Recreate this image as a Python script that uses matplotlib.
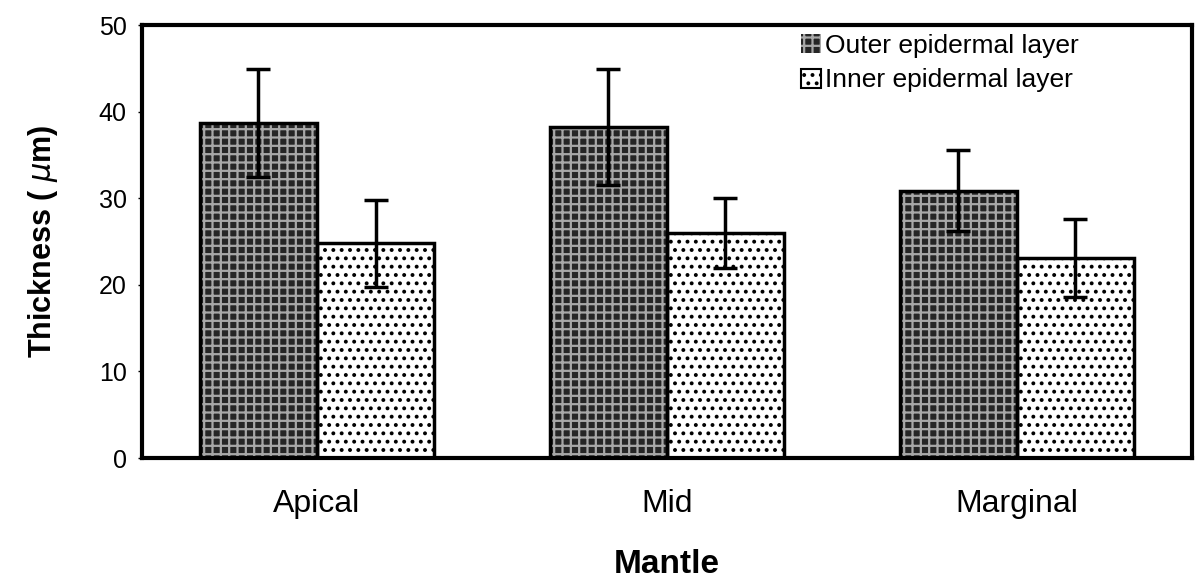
import numpy as np
import matplotlib
matplotlib.use('Agg')
from matplotlib import pyplot as plt
from matplotlib.patches import Patch

# datos
categorias = ['Apical', 'Mid', 'Marginal']
externa = [38.7, 38.2, 30.9]
externa_err = [6.2, 6.7, 4.7]
interna = [24.8, 26.0, 23.1]
interna_err = [5.0, 4.0, 4.5]
series = ['Outer epidermal layer', 'Inner epidermal layer']

plt.rcParams['font.family'] = ['Liberation Sans', 'DejaVu Sans']
plt.rcParams['hatch.linewidth'] = 1.6

fig = plt.figure(figsize=(11.97, 5.88), dpi=100)
ax = fig.add_axes([0.1186, 0.221, 0.877, 0.736])

x = np.arange(len(categorias))
w = 0.335

# barras externas: fondo oscuro con trama clara
ax.bar(x - w/2, externa, w, color='#262626', edgecolor='#a8a8a8', linewidth=0, hatch='++', zorder=2)
ax.bar(x - w/2, externa, w, fill=False, edgecolor='black', linewidth=2.5, zorder=3)
# barras internas: punteado
ax.bar(x + w/2, interna, w, color='white', edgecolor='black', linewidth=0, hatch='..', zorder=2)
ax.bar(x + w/2, interna, w, fill=False, edgecolor='black', linewidth=2.5, zorder=3)

ax.errorbar(x - w/2, externa, yerr=externa_err, fmt='none', ecolor='black', elinewidth=2.5, capsize=8.5, capthick=2.5, zorder=4)
ax.errorbar(x + w/2, interna, yerr=interna_err, fmt='none', ecolor='black', elinewidth=2.5, capsize=8.5, capthick=2.5, zorder=4)

ax.set_xlim(-0.5, 2.5)
ax.set_ylim(0, 50)
ax.set_yticks([0, 10, 20, 30, 40, 50])
ax.set_xticks(x)
ax.set_xticklabels(categorias, fontsize=23)
ax.tick_params(axis='y', labelsize=18, length=3, width=1, pad=8)
ax.tick_params(axis='x', length=0, pad=22)
for s in ax.spines.values():
    s.set_linewidth(3)

ax.set_ylabel('Thickness ( $\\mu$m)', fontsize=22, fontweight='bold', labelpad=28)
ax.set_xlabel('Mantle', fontsize=24, fontweight='bold', labelpad=22)

handles = [Patch(facecolor='#262626', edgecolor='#a8a8a8', hatch='++', linewidth=0),
           Patch(facecolor='white', edgecolor='black', hatch='..', linewidth=1.5)]
ax.legend(handles, series, loc='upper right', frameon=False, fontsize=19,
          handlelength=0.75, handleheight=0.75, handletextpad=0.15, labelspacing=0.4,
          bbox_to_anchor=(0.915, 1.035))

fig.savefig('out.png', dpi=100)
